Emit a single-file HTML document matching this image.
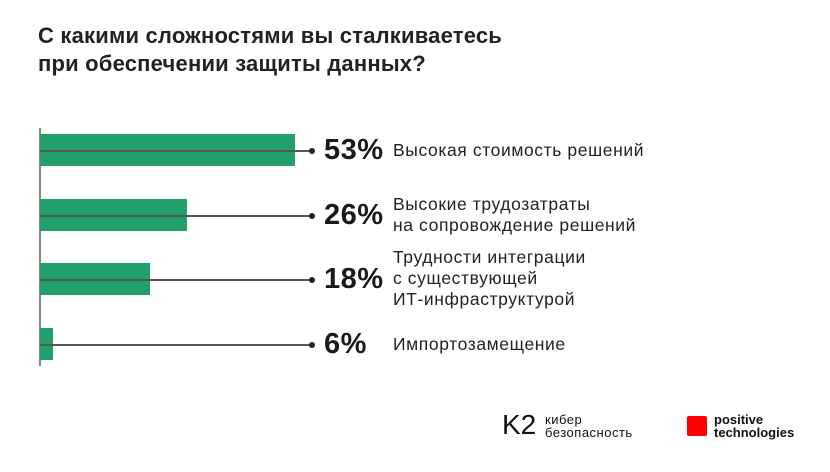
<!DOCTYPE html><html><head><meta charset="utf-8"><style>
body{margin:0;width:830px;height:472px;background:#fff;font-family:"Liberation Sans",sans-serif;color:#1a1a1a;position:relative;overflow:hidden}
.a{position:absolute}
h1{position:absolute;left:38px;top:22px;margin:0;font-size:22px;font-weight:bold;line-height:28px;color:#222;letter-spacing:0.2px}
.bar{position:absolute;left:40px;height:32px;background:#22a06b}
.ln{position:absolute;left:40px;width:272px;height:1.5px;background:#555}
.dot{position:absolute;left:309px;width:6px;height:6px;border-radius:50%;background:#222}
.p{position:absolute;left:324px;font-size:29px;font-weight:bold;line-height:32px;letter-spacing:0.5px}
.t{position:absolute;left:393px;font-size:17.5px;line-height:21px;color:#222;letter-spacing:0.6px}
</style></head><body>
<h1>С какими сложностями вы сталкиваетесь<br>при обеспечении защиты данных?</h1>
<div class="a" style="left:39px;top:128px;width:1.5px;height:238px;background:#888"></div>
<div class="bar" style="top:134px;width:255px"></div><div class="ln" style="top:150px"></div><div class="dot" style="top:148px"></div><div class="p" style="top:134px">53%</div><div class="t" style="top:140px">Высокая стоимость решений</div>
<div class="bar" style="top:199px;width:147px"></div><div class="ln" style="top:215px"></div><div class="dot" style="top:213px"></div><div class="p" style="top:199px">26%</div><div class="t" style="top:194px">Высокие трудозатраты<br>на сопровождение решений</div>
<div class="bar" style="top:263px;width:110px"></div><div class="ln" style="top:279px"></div><div class="dot" style="top:277px"></div><div class="p" style="top:263px">18%</div><div class="t" style="top:247px">Трудности интеграции<br>с существующей<br>ИТ-инфраструктурой</div>
<div class="bar" style="top:328px;width:13px"></div><div class="ln" style="top:344px"></div><div class="dot" style="top:342px"></div><div class="p" style="top:328px">6%</div><div class="t" style="top:334px">Импортозамещение</div>
<div class="a" style="left:502px;top:410px;font-size:28px;line-height:30px;color:#111">K2</div>
<div class="a" style="left:545px;top:413px;font-size:13px;line-height:13px;color:#111;letter-spacing:0.5px">кибер<br>безопасность</div>
<div class="a" style="left:687px;top:416px;width:20px;height:20px;background:#f00;border-radius:2px"></div>
<div class="a" style="left:714px;top:413px;font-size:13px;line-height:13px;color:#111;font-weight:bold">positive<br>technologies</div>
</body></html>
